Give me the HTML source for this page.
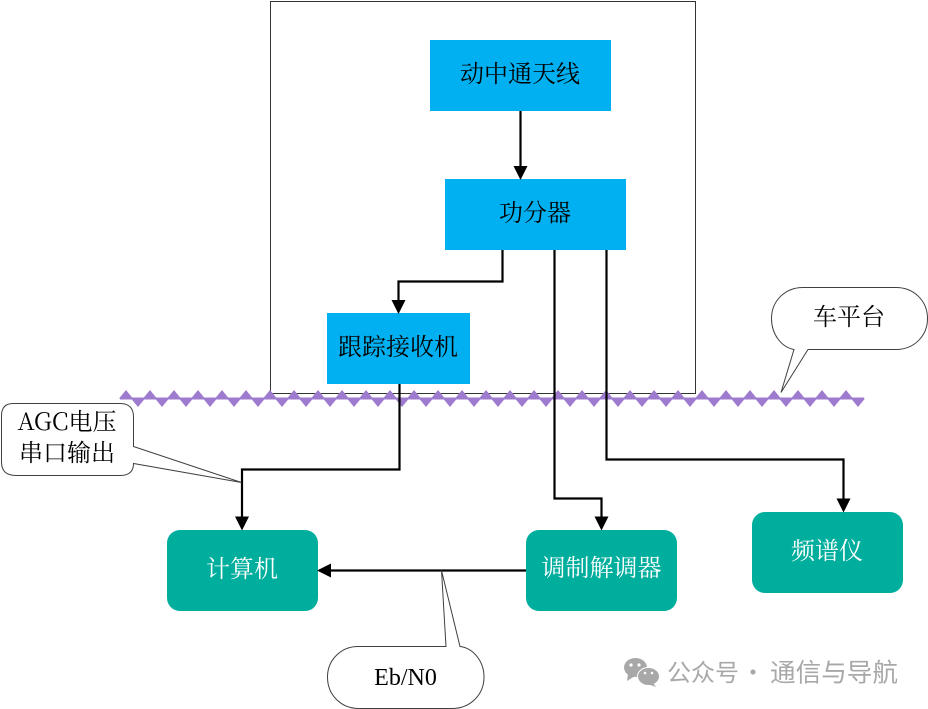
<!DOCTYPE html>
<html><head><meta charset="utf-8">
<style>
html,body{margin:0;padding:0;background:#fff;width:928px;height:709px;overflow:hidden}
svg{display:block}
.t{font-family:"Noto Serif CJK SC","Liberation Serif",serif;font-size:24px;text-anchor:middle;fill:#000}
.w{fill:#fff}
.l{fill:none;stroke:#000;stroke-width:2.2}
.c{fill:#fff;stroke:#404040;stroke-width:1}
.wm{font-family:"Noto Sans CJK SC","Liberation Sans",sans-serif;fill:#a8a8a8}
</style></head><body>
<svg width="928" height="709" viewBox="0 0 928 709" xmlns="http://www.w3.org/2000/svg">
<rect x="270.5" y="1.5" width="425" height="392" fill="#fff" stroke="#333" stroke-width="1"/>
<!-- zigzag band -->
<g fill="#9e7bce">
<rect x="120" y="397.500" width="744" height="2"/>
<path d="M119 398.500
l7-8.500 7 8.500z m24 0 l7-8.500 7 8.500z m24 0 l7-8.500 7 8.500z m24 0 l7-8.500 7 8.500z m24 0 l7-8.500 7 8.500z m24 0 l7-8.500 7 8.500z m24 0 l7-8.500 7 8.500z m24 0 l7-8.500 7 8.500z m24 0 l7-8.500 7 8.500z m24 0 l7-8.500 7 8.500z m24 0
l7-8.500 7 8.500z m24 0 l7-8.500 7 8.500z m24 0 l7-8.500 7 8.500z m24 0 l7-8.500 7 8.500z m24 0 l7-8.500 7 8.500z m24 0 l7-8.500 7 8.500z m24 0 l7-8.500 7 8.500z m24 0 l7-8.500 7 8.500z m24 0 l7-8.500 7 8.500z m24 0 l7-8.500 7 8.500z m24 0
l7-8.500 7 8.500z m24 0 l7-8.500 7 8.500z m24 0 l7-8.500 7 8.500z m24 0 l7-8.500 7 8.500z m24 0 l7-8.500 7 8.500z m24 0 l7-8.500 7 8.500z m24 0 l7-8.500 7 8.500z m24 0 l7-8.500 7 8.500z m24 0 l7-8.500 7 8.500z m24 0 l7-8.500 7 8.500z m24 0
l7-8.500 7 8.500z"/>
<path d="M131 398.500
l7 8.500 7-8.500z m24 0 l7 8.500 7-8.500z m24 0 l7 8.500 7-8.500z m24 0 l7 8.500 7-8.500z m24 0 l7 8.500 7-8.500z m24 0 l7 8.500 7-8.500z m24 0 l7 8.500 7-8.500z m24 0 l7 8.500 7-8.500z m24 0 l7 8.500 7-8.500z m24 0 l7 8.500 7-8.500z m24 0
l7 8.500 7-8.500z m24 0 l7 8.500 7-8.500z m24 0 l7 8.500 7-8.500z m24 0 l7 8.500 7-8.500z m24 0 l7 8.500 7-8.500z m24 0 l7 8.500 7-8.500z m24 0 l7 8.500 7-8.500z m24 0 l7 8.500 7-8.500z m24 0 l7 8.500 7-8.500z m24 0 l7 8.500 7-8.500z m24 0
l7 8.500 7-8.500z m24 0 l7 8.500 7-8.500z m24 0 l7 8.500 7-8.500z m24 0 l7 8.500 7-8.500z m24 0 l7 8.500 7-8.500z m24 0 l7 8.500 7-8.500z m24 0 l7 8.500 7-8.500z m24 0 l7 8.500 7-8.500z m24 0 l7 8.500 7-8.500z m24 0 l7 8.500 7-8.500z m24 0
l7 8.500 7-8.500z"/>
</g>
<!-- boxes -->
<rect x="430" y="40" width="181" height="71" fill="#00b0f0"/>
<rect x="445" y="179" width="181" height="71" fill="#00b0f0"/>
<rect x="327" y="313" width="143" height="71" fill="#00b0f0"/>
<rect x="167" y="530" width="151" height="81" rx="13" fill="#00ae9d"/>
<rect x="526" y="530" width="151" height="81" rx="13" fill="#00ae9d"/>
<rect x="752" y="512" width="151" height="81" rx="13" fill="#00ae9d"/>
<!-- connectors -->
<path class="l" d="M520.500 111V168"/>
<path d="M513.500 166H527.500L520.500 180Z"/>
<path class="l" d="M502.500 250V281.500H398.500V302"/>
<path d="M391.500 300H405.500L398.500 314Z"/>
<path class="l" d="M399.500 384V469.500H242V519"/>
<path d="M235 516.500H249L242 530.500Z"/>
<path class="l" d="M554.500 250V498.500H601.500V519"/>
<path d="M594.500 516.500H608.500L601.500 530.500Z"/>
<path class="l" d="M606.500 250V459.500H843.500V501"/>
<path d="M836.500 498.500H850.500L843.500 512.500Z"/>
<path class="l" d="M526 570.500H330"/>
<path d="M331 563.500V577.500L317 570.500Z"/>
<!-- callouts -->
<path class="c" d="M13,403.500H120Q133.500,403.500 133.500,417V446.500L241.500,482.500L133.500,463.500Q133.500,475.500 120,475.500H16Q1.500,475.500 1.500,462V416Q1.500,403.500 13,403.500Z"/>
<path class="c" d="M358,646.500H446L441.500,570.500L460,646.500C473,648 484,661 484,677C484,695 470,708.500 452,708.500H359C341,708.500 327.500,695 327.500,677C327.500,660 341,646.500 358,646.500Z"/>
<path class="c" d="M803,287.500H896C914,287.500 927.500,301 927.500,318.500C927.500,336 914,349.500 896,349.500H808L781,392.500L794,349.500C781,347 771.500,334 771.500,318.500C771.500,301 785,287.500 803,287.500Z"/>
<!-- labels -->
<text class="t" x="520" y="82">动中通天线</text>
<text class="t" x="535" y="221">功分器</text>
<text class="t" x="398" y="355">跟踪接收机</text>
<text class="t w" x="242" y="577">计算机</text>
<text class="t w" x="601.500" y="576">调制解调器</text>
<text class="t w" x="827" y="559">频谱仪</text>
<text class="t" x="849" y="325">车平台</text>
<text class="t" x="67" y="430">AGC电压</text>
<text class="t" x="67" y="461">串口输出</text>
<text class="t" x="405.500" y="685" style="font-family:'Liberation Serif',serif">Eb/N0</text>
<!-- watermark -->
<g fill="#a8a8a8">
<ellipse cx="635.500" cy="667.500" rx="11.500" ry="9.500"/>
<path d="M628 674L627 681L635 676Z"/>
<ellipse cx="648.500" cy="676.500" rx="11" ry="9" stroke="#fff" stroke-width="1"/>
<path d="M653 683L656 687L649 684.500Z"/>
</g>
<g fill="#fff"><circle cx="631" cy="665" r="1.600"/><circle cx="639" cy="665" r="1.600"/><circle cx="645" cy="673" r="1.300"/><circle cx="652" cy="673" r="1.300"/></g>
<text class="wm" x="667" y="681" style="font-size:24px">公众号</text>
<text class="wm" x="753" y="681" style="font-size:24px;text-anchor:middle">·</text>
<text class="wm" x="770" y="681.500" style="font-size:25.600px">通信与导航</text>
</svg>
</body></html>
